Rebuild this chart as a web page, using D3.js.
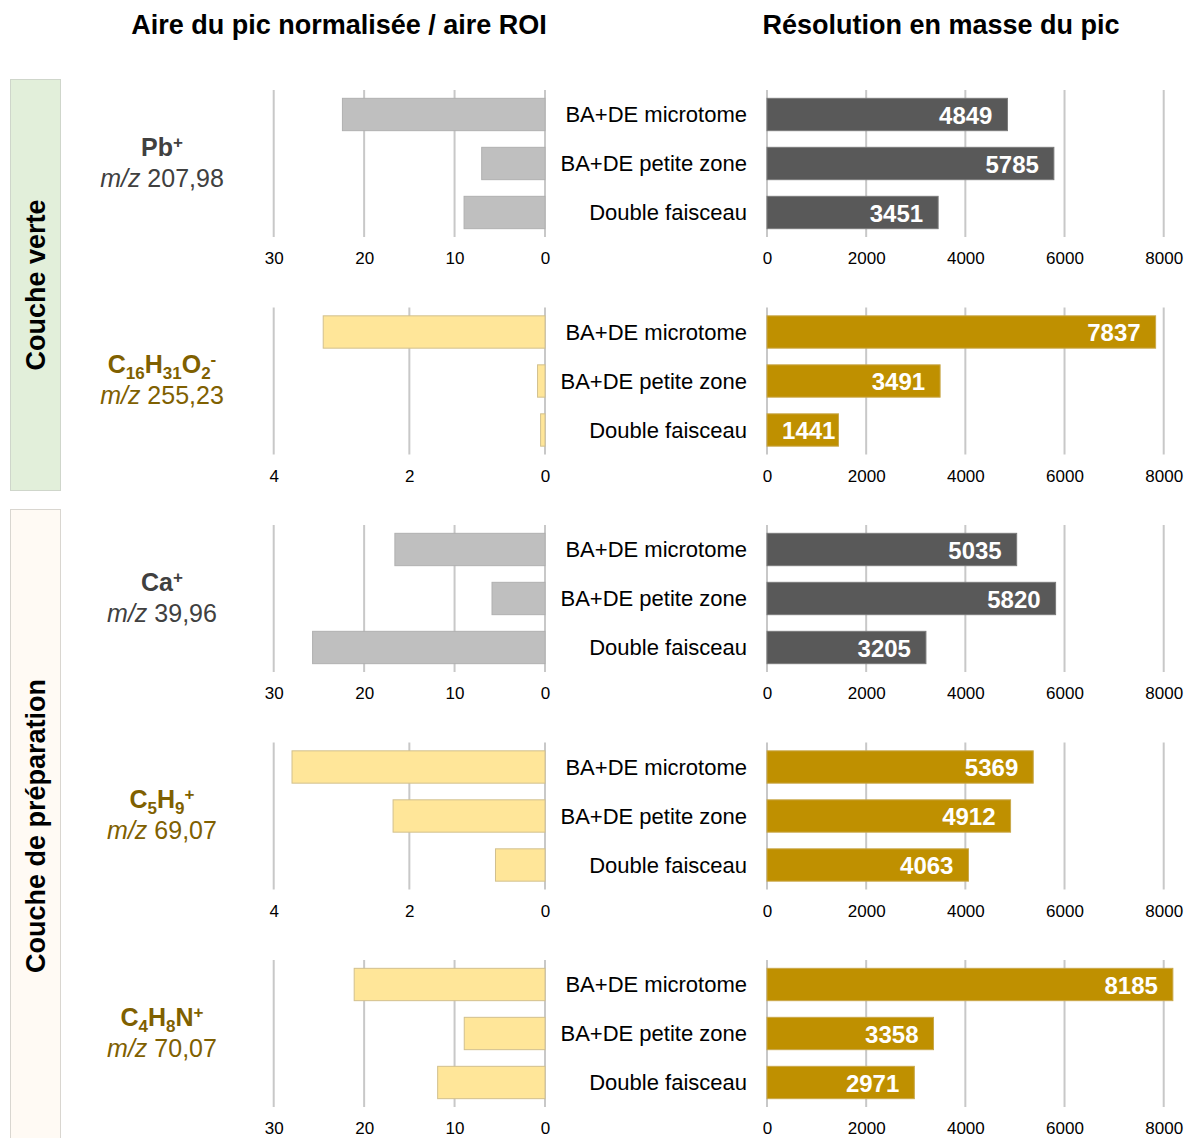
<!DOCTYPE html>
<html><head><meta charset="utf-8">
<script src="https://cdn.jsdelivr.net/npm/d3@7"></script>
<style>body{margin:0;background:#fff;}svg{display:block;font-family:"Liberation Sans",Arial,sans-serif;}</style>
</head><body><svg id="c" width="1186" height="1138"></svg>
<script>
const categories = ["BA+DE microtome", "BA+DE petite zone", "Double faisceau"];
const ionNames = ["Pb", "C16H31O2", "Ca", "C5H9", "C4H8N"];
const ionMz = ["207,98", "255,23", "39,96", "69,07", "70,07"];
const areaPb = [22.4, 7.0, 8.95];
const areaC16 = [3.27, 0.11, 0.065];
const areaCa = [16.6, 5.86, 25.7];
const areaC5 = [3.73, 2.24, 0.73];
const areaC4 = [21.1, 8.93, 11.87];
const resPb = [4849, 5785, 3451];
const resC16 = [7837, 3491, 1441];
const resCa = [5035, 5820, 3205];
const resC5 = [5369, 4912, 4063];
const resC4 = [8185, 3358, 2971];
const areaTicksBig = [30, 20, 10, 0];
const areaTicksSmall = [4, 2, 0];
const resTicks = [0, 2000, 4000, 6000, 8000];
const layers = ["Couche verte", "Couche de préparation"];

const svg = d3.select("#c");
const GRAY_T = "#404040", GOLD_T = "#7f6000";
const panels = [
  {area: areaPb, res: resPb, max: 30, ticks: areaTicksBig, gold: false,
   label: [["Pb", "n"], ["+", "sup"]]},
  {area: areaC16, res: resC16, max: 4, ticks: areaTicksSmall, gold: true,
   label: [["C", "n"], ["16", "sub"], ["H", "n"], ["31", "sub"], ["O", "n"], ["2", "sub"], ["-", "sup"]]},
  {area: areaCa, res: resCa, max: 30, ticks: areaTicksBig, gold: false,
   label: [["Ca", "n"], ["+", "sup"]]},
  {area: areaC5, res: resC5, max: 4, ticks: areaTicksSmall, gold: true,
   label: [["C", "n"], ["5", "sub"], ["H", "n"], ["9", "sub"], ["+", "sup"]]},
  {area: areaC4, res: resC4, max: 30, ticks: areaTicksBig, gold: true,
   label: [["C", "n"], ["4", "sub"], ["H", "n"], ["8", "sub"], ["N", "n"], ["+", "sup"]]}
];

// side bands
svg.append("rect").attr("x", 10.5).attr("y", 79.5).attr("width", 50).attr("height", 411)
  .attr("fill", "#e2efda").attr("stroke", "#cfd6cb");
svg.append("rect").attr("x", 10.5).attr("y", 509.5).attr("width", 50).attr("height", 640)
  .attr("fill", "#fffaf4").attr("stroke", "#d9d6d0");
svg.append("text").attr("transform", "translate(36,285) rotate(-90)")
  .attr("text-anchor", "middle").attr("dominant-baseline", "central")
  .attr("font-weight", "bold").attr("font-size", 27).attr("fill", "#000").text(layers[0]);
svg.append("text").attr("transform", "translate(36,826) rotate(-90)")
  .attr("text-anchor", "middle").attr("dominant-baseline", "central")
  .attr("font-weight", "bold").attr("font-size", 27).attr("fill", "#000").text(layers[1]);

// titles
svg.append("text").attr("x", 339).attr("y", 34).attr("text-anchor", "middle")
  .attr("font-weight", "bold").attr("font-size", 27).attr("fill", "#000")
  .text("Aire du pic normalisée / aire ROI");
svg.append("text").attr("x", 941).attr("y", 34).attr("text-anchor", "middle")
  .attr("font-weight", "bold").attr("font-size", 27).attr("fill", "#000")
  .text("Résolution en masse du pic");

const xRes = d3.scaleLinear().domain([0, 8000]).range([767, 1163.7]);

panels.forEach((p, i) => {
  const top = 90 + i * 217.5, bottom = top + 147;
  const y = d3.scaleBand().domain(categories).range([top, bottom])
    .paddingInner(0.34).paddingOuter(0.17);
  const xA = d3.scaleLinear().domain([p.max, 0]).range([273.7, 545]);
  const g = svg.append("g");

  // left gridlines
  g.selectAll(".gl").data(p.ticks).join("line")
    .attr("x1", d => xA(d)).attr("x2", d => xA(d)).attr("y1", top).attr("y2", bottom)
    .attr("stroke", "#c8c8c8").attr("stroke-width", 2);
  // left axis labels
  const axL = g.append("g").attr("transform", `translate(0,${bottom})`)
    .call(d3.axisBottom(xA).tickValues(p.ticks).tickSize(0).tickPadding(15).tickFormat(d3.format("d")));
  axL.select(".domain").remove();
  axL.selectAll("text").attr("font-size", 17).attr("fill", "#000")
    .attr("font-family", "Liberation Sans, Arial, sans-serif");
  // left bars
  g.selectAll(".lb").data(p.area).join("rect")
    .attr("x", d => xA(d)).attr("width", d => xA(0) - xA(d))
    .attr("y", (d, j) => y(categories[j])).attr("height", y.bandwidth())
    .attr("fill", p.gold ? "#ffe699" : "#bfbfbf")
    .attr("stroke", p.gold ? "#d2c08e" : "#b0b0b0").attr("stroke-width", 1);

  // right gridlines
  g.selectAll(".gr").data(resTicks).join("line")
    .attr("x1", d => xRes(d)).attr("x2", d => xRes(d)).attr("y1", top).attr("y2", bottom)
    .attr("stroke", "#c8c8c8").attr("stroke-width", 2);
  const axR = g.append("g").attr("transform", `translate(0,${bottom})`)
    .call(d3.axisBottom(xRes).tickValues(resTicks).tickSize(0).tickPadding(15).tickFormat(d3.format("d")));
  axR.select(".domain").remove();
  axR.selectAll("text").attr("font-size", 17).attr("fill", "#000")
    .attr("font-family", "Liberation Sans, Arial, sans-serif");
  // right bars
  g.selectAll(".rb").data(p.res).join("rect")
    .attr("x", xRes(0)).attr("width", d => xRes(d) - xRes(0))
    .attr("y", (d, j) => y(categories[j])).attr("height", y.bandwidth())
    .attr("fill", p.gold ? "#bf9000" : "#595959")
    .attr("stroke", p.gold ? "#c9a84a" : "#7a7a7a").attr("stroke-width", 1);
  g.selectAll(".rv").data(p.res).join("text")
    .attr("x", d => xRes(d) - 15).attr("y", (d, j) => y(categories[j]) + y.bandwidth() / 2)
    .attr("dy", "0.38em").attr("text-anchor", "end")
    .attr("font-weight", "bold").attr("font-size", 24).attr("fill", "#fff")
    .text(d => d)
    .each(function(d) {
      const w = this.getComputedTextLength();
      const minEnd = xRes(0) + 16 + w;
      if (xRes(d) - 15 < minEnd) d3.select(this).attr("x", Math.min(minEnd, xRes(d) - 3));
    });

  // category labels
  g.selectAll(".cl").data(categories).join("text")
    .attr("x", 747).attr("y", d => y(d) + y.bandwidth() / 2).attr("dy", "0.36em")
    .attr("text-anchor", "end").attr("font-size", 22).attr("fill", "#000").text(d => d);

  // ion labels
  const col = p.gold ? GOLD_T : GRAY_T;
  const mid = top + 73.5;
  const t1 = g.append("text").attr("x", 162).attr("y", mid - 8).attr("text-anchor", "middle")
    .attr("font-weight", "bold").attr("font-size", 25).attr("fill", col);
  let shift = 0;
  p.label.forEach(([s, k]) => {
    let target = k === "sub" ? 6 : (k === "sup" ? -8 : 0);
    t1.append("tspan").attr("dy", target - shift)
      .attr("font-size", k === "n" ? 25 : 17).text(s);
    shift = target;
  });
  const t2 = g.append("text").attr("x", 162).attr("y", mid + 23).attr("text-anchor", "middle")
    .attr("font-size", 25).attr("fill", col);
  t2.append("tspan").attr("font-style", "italic").text("m/z");
  t2.append("tspan").text(" " + ionMz[i]);
});
</script></body></html>
